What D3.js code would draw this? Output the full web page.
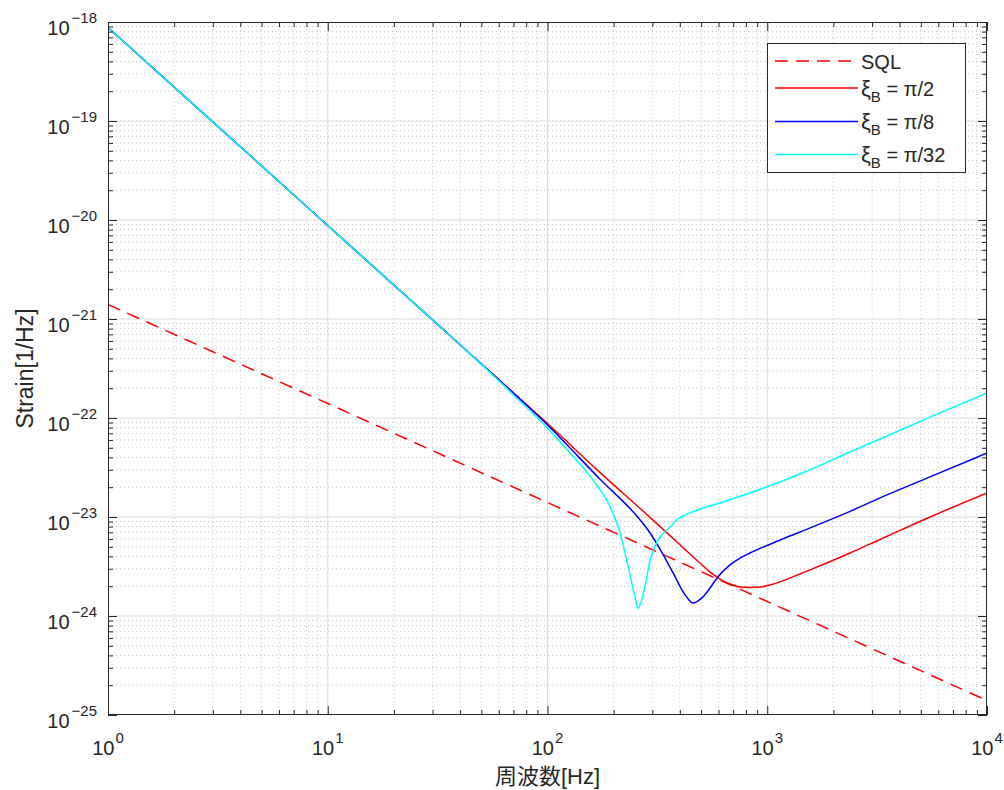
<!DOCTYPE html>
<html>
<head>
<meta charset="utf-8">
<script src="https://cdn.jsdelivr.net/npm/d3@7"></script>
<style>
  body { margin: 0; background: #fff; }
  svg { display: block; font-family: "Liberation Sans", "Noto Sans CJK JP", sans-serif; }
</style>
</head>
<body>
<svg id="chart" width="1004" height="790"></svg>
<script>
// Strain noise spectra: standard quantum limit and three readout angles
const sqlFreq   = [1, 10000];
const sqlStrain = [1.4e-21, 1.4e-25];

const pi2Freq   = [1, 2, 5, 10, 20, 30, 40, 50, 60, 75, 100, 173, 264, 373, 494, 549, 591, 629, 677, 752, 835, 927, 1029, 1143, 1409, 1565, 2381, 3260, 5503, 10000];
const pi2Strain = [8.8e-19, 2.2e-19, 3.52e-20, 8.8e-21, 2.2e-21, 9.8e-22, 5.5e-22, 3.52e-22, 2.44e-22, 1.56e-22, 8.8e-23, 2.82e-23, 1.22e-23, 6.07e-24, 3.43e-24, 2.78e-24, 2.48e-24, 2.26e-24, 2.11e-24, 1.96e-24, 1.94e-24, 1.96e-24, 2.06e-24, 2.21e-24, 2.66e-24, 2.92e-24, 4.33e-24, 5.93e-24, 1.0e-23, 1.75e-23];

const pi8Freq   = [1, 2, 5, 10, 20, 30, 40, 50, 60, 75, 100, 173, 264, 293, 325, 373, 414, 436, 459, 484, 510, 549, 591, 677, 752, 835, 1062, 1409, 2381, 3260, 5503, 10000];
const pi8Strain = [8.8e-19, 2.2e-19, 3.52e-20, 8.8e-21, 2.2e-21, 9.8e-22, 5.5e-22, 3.52e-22, 2.44e-22, 1.55e-22, 8.5e-23, 2.42e-23, 9.33e-24, 6.89e-24, 4.75e-24, 2.72e-24, 1.75e-24, 1.49e-24, 1.35e-24, 1.42e-24, 1.56e-24, 1.92e-24, 2.42e-24, 3.28e-24, 3.85e-24, 4.33e-24, 5.46e-24, 7.06e-24, 1.14e-23, 1.56e-23, 2.54e-23, 4.43e-23];

const pi32Freq   = [1, 2, 5, 10, 20, 30, 40, 55, 71, 100, 123, 161, 193, 214, 233, 250, 258, 278, 293, 315, 361, 389, 445, 521, 629, 998, 1409, 2381, 3260, 5503, 10000];
const pi32Strain = [8.8e-19, 2.2e-19, 3.52e-20, 8.8e-21, 2.2e-21, 9.8e-22, 5.5e-22, 2.87e-22, 1.66e-22, 7.9e-23, 4.75e-23, 2.36e-23, 1.26e-23, 6.89e-24, 3.13e-24, 1.56e-24, 1.20e-24, 2.01e-24, 3.68e-24, 5.59e-24, 7.92e-24, 9.44e-24, 1.10e-23, 1.25e-23, 1.42e-23, 2.02e-23, 2.72e-23, 4.54e-23, 6.14e-23, 1.02e-22, 1.79e-22];

const xTickExponents = [0, 1, 2, 3, 4];
const yTickExponents = [-18, -19, -20, -21, -22, -23, -24, -25];
const angleLabels = ["π/2", "π/8", "π/32"];

const series = [
  { label: "SQL",            freq: sqlFreq,  strain: sqlStrain,  color: "#ff0000", dash: "13,8" },
  { label: angleLabels[0],   freq: pi2Freq,  strain: pi2Strain,  color: "#ff0000", dash: null },
  { label: angleLabels[1],   freq: pi8Freq,  strain: pi8Strain,  color: "#0000ff", dash: null },
  { label: angleLabels[2],   freq: pi32Freq, strain: pi32Strain, color: "#00ffff", dash: null }
];

// plot frame
const L = 108, T = 22, R = 987, B = 715;
const axisColor = "#262626";

const svg = d3.select("#chart");
const x = d3.scaleLog().domain([1, 1e4]).range([L, R]);
const y = d3.scaleLog().domain([1e-25, 1e-18]).range([B, T]);

const xMajor = xTickExponents.map(e => Math.pow(10, e));
const yMajor = yTickExponents.map(e => Math.pow(10, e));
const minorOf = majors => {
  const out = [];
  const sorted = majors.slice().sort((a, b) => a - b);
  for (let i = 0; i < sorted.length - 1; i++)
    for (let k = 2; k <= 9; k++) out.push(sorted[i] * k);
  return out;
};
const xMinor = minorOf(xMajor);
const yMinor = minorOf(yMajor);

// grid
const grid = svg.append("g");
grid.selectAll(".xmin").data(xMinor).join("line")
  .attr("x1", d => x(d)).attr("x2", d => x(d)).attr("y1", T).attr("y2", B)
  .attr("stroke", "#c4c4c4").attr("stroke-width", 1).attr("stroke-dasharray", "1,3");
grid.selectAll(".ymin").data(yMinor).join("line")
  .attr("y1", d => y(d)).attr("y2", d => y(d)).attr("x1", L).attr("x2", R)
  .attr("stroke", "#c4c4c4").attr("stroke-width", 1).attr("stroke-dasharray", "1,3");
grid.selectAll(".xmaj").data(xMajor.slice(1, -1)).join("line")
  .attr("x1", d => x(d)).attr("x2", d => x(d)).attr("y1", T).attr("y2", B)
  .attr("stroke", "#dcdcdc").attr("stroke-width", 1);
grid.selectAll(".ymaj").data(yMajor.slice(1, -1)).join("line")
  .attr("y1", d => y(d)).attr("y2", d => y(d)).attr("x1", L).attr("x2", R)
  .attr("stroke", "#dcdcdc").attr("stroke-width", 1);

// curves
svg.append("clipPath").attr("id", "plotClip")
  .append("rect").attr("x", L).attr("y", T).attr("width", R - L).attr("height", B - T);

const line = d3.line()
  .x(d => x(d[0])).y(d => y(d[1]))
  .curve(d3.curveMonotoneX);

const curves = svg.append("g").attr("clip-path", "url(#plotClip)");
series.forEach(s => {
  const pts = s.freq.map((f, i) => [f, s.strain[i]]);
  curves.append("path")
    .attr("d", line(pts))
    .attr("fill", "none")
    .attr("stroke", s.color)
    .attr("stroke-width", 1.5)
    .attr("stroke-dasharray", s.dash);
});

// axes with inward ticks on all sides
const axes = svg.append("g");
const addAxis = (gen, tx, ty) => {
  const g = axes.append("g").attr("transform", `translate(${tx},${ty})`).call(gen);
  g.select(".domain").remove();
  g.selectAll("line").attr("stroke", axisColor);
  g.selectAll("text").remove();
};
addAxis(d3.axisBottom(x).tickValues(xMajor).tickSize(-9).tickSizeOuter(0), 0, B);
addAxis(d3.axisBottom(x).tickValues(xMinor).tickSize(-5).tickSizeOuter(0), 0, B);
addAxis(d3.axisTop(x).tickValues(xMajor).tickSize(-9).tickSizeOuter(0), 0, T);
addAxis(d3.axisTop(x).tickValues(xMinor).tickSize(-5).tickSizeOuter(0), 0, T);
addAxis(d3.axisLeft(y).tickValues(yMajor).tickSize(-9).tickSizeOuter(0), L, 0);
addAxis(d3.axisLeft(y).tickValues(yMinor).tickSize(-5).tickSizeOuter(0), L, 0);
addAxis(d3.axisRight(y).tickValues(yMajor).tickSize(-9).tickSizeOuter(0), R, 0);
addAxis(d3.axisRight(y).tickValues(yMinor).tickSize(-5).tickSizeOuter(0), R, 0);

axes.append("rect")
  .attr("x", L + 0.5).attr("y", T + 0.5).attr("width", R - L - 1).attr("height", B - T - 1)
  .attr("fill", "none").attr("stroke", axisColor).attr("stroke-width", 1);

// tick labels as powers of ten
const fmtExp = e => (e < 0 ? "\u2212" + (-e) : String(e));
xTickExponents.forEach(e => {
  const t = svg.append("text")
    .attr("x", x(Math.pow(10, e))).attr("y", B + 40)
    .attr("text-anchor", "middle").attr("fill", axisColor);
  t.append("tspan").attr("font-size", 20).text("10");
  t.append("tspan").attr("font-size", 15).attr("dy", -12).attr("dx", 1).text(fmtExp(e));
});
yTickExponents.forEach(e => {
  const t = svg.append("text")
    .attr("x", 97).attr("y", y(Math.pow(10, e)) + 13)
    .attr("text-anchor", "end").attr("fill", axisColor);
  t.append("tspan").attr("font-size", 20).text("10");
  t.append("tspan").attr("font-size", 15).attr("dy", -12.5).attr("dx", 2).text(fmtExp(e));
});

// axis titles
svg.append("text")
  .attr("x", (L + R) / 2).attr("y", 784)
  .attr("text-anchor", "middle").attr("font-size", 22).attr("fill", axisColor)
  .text("周波数[Hz]");
svg.append("text")
  .attr("transform", `translate(33,${(T + B) / 2}) rotate(-90)`)
  .attr("text-anchor", "middle").attr("font-size", 23).attr("fill", axisColor)
  .text("Strain[1/Hz]");

// legend
const lg = svg.append("g");
lg.append("rect")
  .attr("x", 767.5).attr("y", 43.5).attr("width", 198).attr("height", 129)
  .attr("fill", "#fff").attr("stroke", axisColor).attr("stroke-width", 1);
const rowY = [61, 88, 121.5, 154.5];
series.forEach((s, i) => {
  const yy = rowY[i];
  lg.append("line")
    .attr("x1", 775).attr("x2", 858).attr("y1", yy).attr("y2", yy)
    .attr("stroke", s.color).attr("stroke-width", 1.5)
    .attr("stroke-dasharray", s.dash);
  const t = lg.append("text").attr("x", 861).attr("y", yy + 7.5)
    .attr("fill", axisColor).attr("font-size", 20);
  if (i === 0) {
    t.text(s.label);
  } else {
    t.append("tspan").attr("font-size", 22).text("ξ");
    t.append("tspan").attr("font-size", 15).attr("dy", 6).text("B");
    t.append("tspan").attr("dy", -6).text(" = " + s.label);
  }
});
</script>
</body>
</html>
